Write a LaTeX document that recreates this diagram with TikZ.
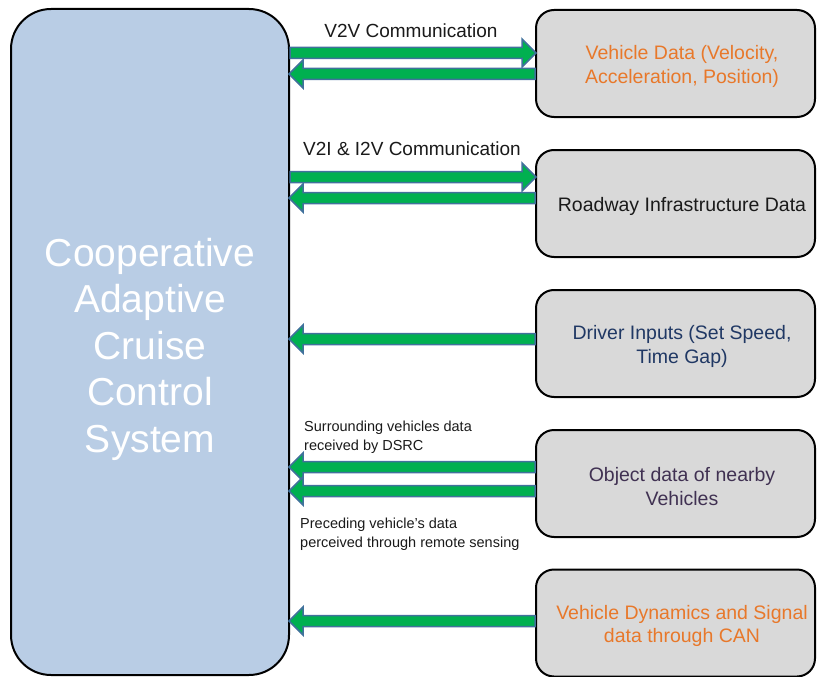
\documentclass[tikz,border=0pt]{standalone}
\usepackage{fontspec}
\setmainfont{Liberation Sans}
\usetikzlibrary{calc}
\definecolor{bigfill}{HTML}{B9CDE5}
\definecolor{boxfill}{HTML}{D9D9D9}
\definecolor{agreen}{HTML}{00B050}
\definecolor{aborder}{HTML}{41719C}
\definecolor{torange}{HTML}{E8782A}
\definecolor{tblue}{HTML}{203864}
\definecolor{tpurple}{HTML}{403152}
\definecolor{tdark}{HTML}{1A1A1A}
\newcommand\blockarrow[3]{%
  \draw[barrow] let \p1=(#1), \p2=(#2), \p3=(0,#3), \n1={ifthenelse(\x2>\x1,1,-1)} in
  (\x1,\y3+5.5pt) -- (\x2-\n1*13pt,\y3+5.5pt) -- (\x2-\n1*13pt,\y3+14pt) -- (\x2+\n1*1pt,\y3)
  -- (\x2-\n1*13pt,\y3-14pt) -- (\x2-\n1*13pt,\y3-5.5pt) -- (\x1,\y3-5.5pt) -- cycle;}
\begin{document}
\begin{tikzpicture}[x=1pt,y=-1pt,
  bigbox/.style={draw=black, line width=2pt, fill=bigfill, rounded corners=40pt,
    minimum width=278pt, minimum height=666pt, inner sep=0pt},
  bigtext/.style={align=center, yshift=-7pt, inner sep=0pt, text=white,
    font=\fontsize{39}{46.5}\selectfont},
  databox/.style={draw=black, line width=2pt, fill=boxfill, rounded corners=18pt,
    minimum width=279pt, minimum height=107pt, inner sep=0pt},
  boxtext/.style={align=center, xshift=6.5pt, yshift=-3pt, inner sep=0pt, font=\fontsize{19.5}{23.5}\selectfont},
  lbl/.style={inner sep=0pt, text=tdark, font=\fontsize{19}{23}\selectfont},
  smalllbl/.style={inner sep=0pt, text=tdark, align=left, anchor=west, font=\fontsize{14.5}{19}\selectfont},
  barrow/.style={draw=aborder, fill=agreen, line width=1.5pt, line join=miter}]
\useasboundingbox (0,0) rectangle (817,677);

\node[bigbox, label={[bigtext]center:{Cooperative\\Adaptive\\Cruise\\Control\\System}}] (big) at (150,342) {};

\node[databox, label={[boxtext, text=torange]center:{Vehicle Data (Velocity,\\Acceleration, Position)}}] (b1) at (675.5,63.5) {};
\node[databox, label={[boxtext, text=tdark]center:{Roadway Infrastructure Data}}] (b2) at (675.5,203.5) {};
\node[databox, label={[boxtext, text=tblue]center:{Driver Inputs (Set Speed,\\Time Gap)}}] (b3) at (675.5,343.5) {};
\node[databox, label={[boxtext, text=tpurple]center:{Object data of nearby\\Vehicles}}] (b4) at (675.5,483.5) {};
\node[databox, label={[boxtext, text=torange]center:{Vehicle Dynamics and Signal\\data through CAN}}] (b5) at (675.5,623) {};

\node[lbl] (l1) at (411,31) {V2V Communication};
\node[lbl] (l2) at (412,149) {V2I \& I2V Communication};
\node[smalllbl] (l3) at (304,437) {Surrounding vehicles data\\received by DSRC};
\node[smalllbl] (l4) at (300,534) {Preceding vehicle's data\\perceived through remote sensing};

\blockarrow{big.east}{b1.west}{53}
\blockarrow{b1.west}{big.east}{74}
\blockarrow{big.east}{b2.west}{177}
\blockarrow{b2.west}{big.east}{198}
\blockarrow{b3.west}{big.east}{339}
\blockarrow{b4.west}{big.east}{467}
\blockarrow{b4.west}{big.east}{491}
\blockarrow{b5.west}{big.east}{621}
\end{tikzpicture}
\end{document}
